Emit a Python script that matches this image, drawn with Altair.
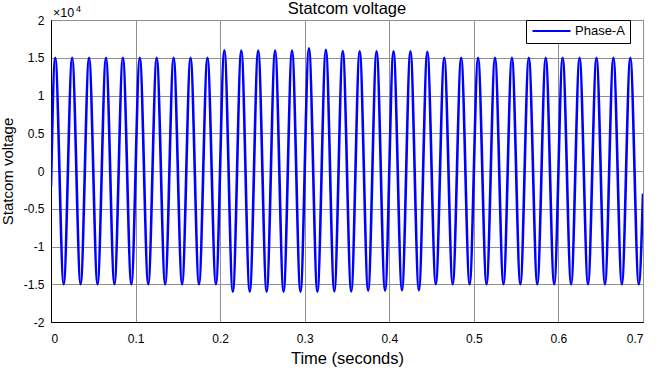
import altair as alt
import pandas as pd

# ---- values (Statcom voltage, Phase-A) ----
start_time = 0.0
start_value = -2000
end_time = 0.7
end_value = -3000

peak_times = [0.005, 0.025, 0.045, 0.065, 0.085, 0.105, 0.125, 0.145, 0.165, 0.185,
              0.205, 0.225, 0.245, 0.265, 0.285, 0.305, 0.325, 0.345, 0.365, 0.385,
              0.405, 0.425, 0.445, 0.465, 0.485, 0.505, 0.525, 0.545, 0.565, 0.585,
              0.605, 0.625, 0.645, 0.665, 0.685]
peak_values = [15000, 15000, 15000, 15000, 15000, 15000, 15000, 15000, 15000, 15000,
               16000, 15950, 15950, 15950, 15950, 16250, 16050, 15900, 15850, 15850,
               15850, 15850, 15800, 15000, 15000, 15000, 15000, 15000, 15000, 15000,
               15000, 15000, 15000, 15000, 15000]

trough_times = [0.015, 0.035, 0.055, 0.075, 0.095, 0.115, 0.135, 0.155, 0.175, 0.195,
                0.215, 0.235, 0.255, 0.275, 0.295, 0.315, 0.335, 0.355, 0.375, 0.395,
                0.415, 0.435, 0.455, 0.475, 0.495, 0.515, 0.535, 0.555, 0.575, 0.595,
                0.615, 0.635, 0.655, 0.675, 0.695]
trough_values = [-15000, -15000, -15000, -15000, -15000, -15000, -15000, -15000, -15000, -15000,
                 -16000, -16000, -16000, -16000, -16000, -16000, -15950, -15950, -15850, -15850,
                 -15800, -15800, -15000, -15000, -15000, -15000, -15000, -15000, -15000, -15000,
                 -15000, -15000, -15000, -15000, -15000]

series_name = "Phase-A"
chart_title = "Statcom voltage"
x_title = "Time (seconds)"
y_title = "Statcom voltage"
x_ticks = [0, 0.1, 0.2, 0.3, 0.4, 0.5, 0.6, 0.7]
y_ticks = [-20000, -15000, -10000, -5000, 0, 5000, 10000, 15000, 20000]

rows = [(start_time, start_value)]
rows += list(zip(peak_times, peak_values))
rows += list(zip(trough_times, trough_values))
rows += [(end_time, end_value)]
rows.sort(key=lambda r: r[0])
df = pd.DataFrame(rows, columns=["t", "v"])
df["series"] = series_name

FONT = "Liberation Sans"

x_scale = alt.Scale(domain=[0, 0.7], nice=False, zero=False)
y_scale = alt.Scale(domain=[-20000, 20000], nice=False)

x_axis = alt.Axis(values=x_ticks, labelExpr="'' + datum.value",
                  labelOverlap=False, grid=True,
                  title=x_title, titleFontSize=16.5,
                  labelPadding=11, titlePadding=6)
y_axis = alt.Axis(values=y_ticks, labelExpr="'' + (datum.value / 10000)",
                  labelOverlap=False, grid=True,
                  title=y_title, titleFontSize=15,
                  labelPadding=7, titlePadding=8)


def x_enc():
    return alt.X("t:Q", scale=x_scale, axis=x_axis)


def y_enc():
    return alt.Y("v:Q", scale=y_scale, axis=y_axis)


line = alt.Chart(df).mark_line(interpolate="monotone", strokeWidth=2.6, clip=True).encode(
    x=x_enc(),
    y=y_enc(),
    color=alt.Color("series:N", scale=alt.Scale(range=["#0000ff"]),
                    legend=alt.Legend(title=None, orient="none", legendX=475, legendY=0,
                                      fillColor="white", strokeColor="black", padding=5,
                                      symbolType="stroke", symbolSize=1444,
                                      symbolStrokeWidth=2.2, labelFontSize=13,
                                      labelFont=FONT, labelColor="black",
                                      labelOffset=3, clipHeight=12)),
)

# annotation texts anchored to data coordinates of the shared scales
ann_df = pd.DataFrame({"t": [0.0, 0.0, 0.35], "v": [20000, 20000, 20000],
                       "txt": ["\u00d710", "4", chart_title],
                       "kind": ["exp", "sup", "title"]})


def ann(kind, **kw):
    return alt.Chart(ann_df).transform_filter(alt.datum.kind == kind).mark_text(
        font=FONT, color="black", baseline="alphabetic", **kw
    ).encode(
        x=x_enc(),
        y=y_enc(),
        text="txt:N",
    )


exp_base = ann("exp", align="left", fontSize=12.5, dx=2, dy=-3.5)
exp_sup = ann("sup", align="left", fontSize=9, dx=25, dy=-8.5)
title_txt = ann("title", align="center", fontSize=16.5, dy=-6.5)

chart = alt.layer(line, exp_base, exp_sup, title_txt).properties(
    width=592,
    height=302,
    padding={"left": 51, "top": 20, "right": 21, "bottom": 56},
    autosize=alt.AutoSizeParams(type="none"),
    background="white",
).configure(font=FONT).configure_view(
    stroke="black", strokeWidth=1
).configure_axis(
    gridColor="#909090", gridWidth=1, gridOpacity=1,
    domainColor="black", domainWidth=1, ticks=False,
    labelFont=FONT, labelFontSize=12, labelColor="black",
    titleFont=FONT, titleColor="black", titleFontWeight="normal",
)

chart.save("out.html", embed_options={"renderer": "svg", "actions": False})
